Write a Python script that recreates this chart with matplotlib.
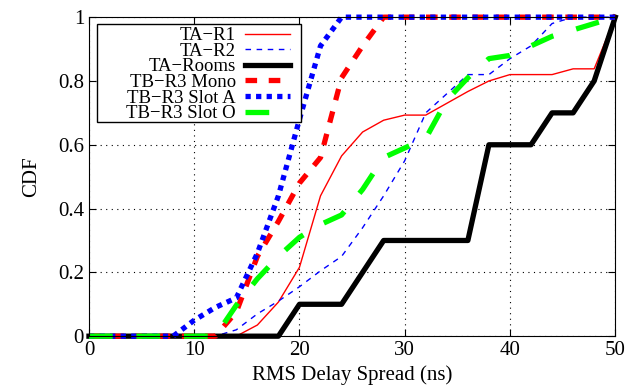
import numpy as np
import matplotlib.pyplot as plt
from matplotlib.patches import Rectangle

plt.rcParams['font.family'] = ['Liberation Serif', 'DejaVu Serif']

# RMS delay spread sample points (ns)
delay = np.arange(0, 52, 2)

# CDF values, one per 2 ns
ta_r1 = [0, 0, 0, 0, 0, 0, 0, 0, 0.035, 0.107, 0.216, 0.44, 0.565, 0.64, 0.677,
         0.693, 0.693, 0.73, 0.767, 0.80, 0.82, 0.82, 0.82, 0.838, 0.838, 1.0]
ta_r2 = [0, 0, 0, 0, 0, 0, 0, 0.02, 0.07, 0.11, 0.155, 0.205, 0.25, 0.34, 0.44,
         0.55, 0.70, 0.76, 0.82, 0.82, 0.87, 0.91, 0.98, 1.0, 1.0, 1.0]
ta_rooms = [0, 0, 0, 0, 0, 0, 0, 0, 0, 0, 0.1, 0.1, 0.1, 0.2, 0.3,
            0.3, 0.3, 0.3, 0.3, 0.6, 0.6, 0.6, 0.7, 0.7, 0.8, 1.0]
tb_mono = [0, 0, 0, 0, 0, 0, 0, 0.076, 0.25, 0.36, 0.48, 0.56, 0.81, 0.91, 1.0,
           1.0, 1.0, 1.0, 1.0, 1.0, 1.0, 1.0, 1.0, 1.0, 1.0, 1.0]
tb_slot_a = [0, 0, 0, 0, 0, 0.05, 0.09, 0.12, 0.26, 0.44, 0.68, 0.91, 1.0, 1.0, 1.0,
             1.0, 1.0, 1.0, 1.0, 1.0, 1.0, 1.0, 1.0, 1.0, 1.0, 1.0]
tb_slot_o = [0, 0, 0, 0, 0, 0, 0, 0.097, 0.18, 0.25, 0.31, 0.35, 0.38, 0.46, 0.56,
             0.59, 0.62, 0.74, 0.81, 0.87, 0.88, 0.91, 0.94, 0.96, 0.98, 1.0]

fig = plt.figure(figsize=(6.31, 3.9), dpi=100)
ax = fig.add_axes([0.141, 0.138, 0.834, 0.818])

ax.plot(delay, ta_r1, color='#ff0000', lw=1.0, label='TA\u2212R1', clip_on=False)
ax.plot(delay, ta_r2, color='#0000ff', lw=1.0, dashes=(4, 4), label='TA\u2212R2', clip_on=False)
ax.plot(delay, ta_rooms, color='black', lw=3.8, label='TA\u2212Rooms', clip_on=False)
ax.plot(delay, tb_mono, color='#ff0000', lw=3.8, dashes=(2.2, 2.2), label='TB\u2212R3 Mono', clip_on=False)
ax.plot(delay, tb_slot_a, color='#0000ff', lw=3.8, dashes=(1, 1), label='TB\u2212R3 Slot A', clip_on=False)
ax.plot(delay, tb_slot_o, color='#00ff00', lw=3.8, dashes=(4.5, 4.5), label='TB\u2212R3 Slot O', clip_on=False)

ax.set_xlim(0, 50)
ax.set_ylim(0, 1)
ax.set_xticks([0, 10, 20, 30, 40, 50])
ax.set_yticks([0, 0.2, 0.4, 0.6, 0.8, 1])
ax.set_yticklabels(['0', '0.2', '0.4', '0.6', '0.8', '1'])
ax.tick_params(direction='in', top=True, right=True, labelsize=15, length=5)
ax.grid(True, color='black', linestyle=(0, (1, 4)), lw=0.8)
ax.set_xlabel('RMS Delay Spread (ns)', fontsize=15, labelpad=4)
ax.set_ylabel('CDF', fontsize=15, labelpad=12)

# gnuplot-style key: labels right-aligned, sample lines on the right, wide box
leg = ax.legend(loc='upper right', bbox_to_anchor=(0.386, 0.975), fontsize=13.5,
                markerfirst=False, frameon=False,
                handlelength=2.4, handletextpad=0.5, labelspacing=-0.08,
                borderpad=0.1, borderaxespad=0)
leg.set_zorder(6)
ax.add_patch(Rectangle((0.0152, 0.671), 0.388, 0.307, transform=ax.transAxes,
                       facecolor='white', edgecolor='black', lw=1.0, zorder=5))

fig.savefig('out.png')
